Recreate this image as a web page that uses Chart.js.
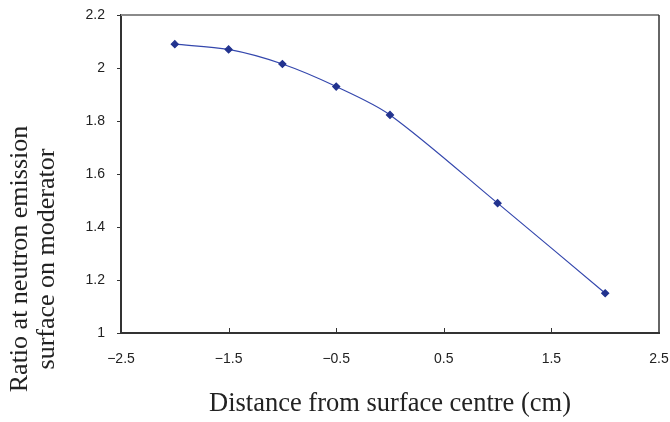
<!DOCTYPE html>
<html>
<head>
<meta charset="utf-8">
<script src="https://cdn.jsdelivr.net/npm/chart.js@4/dist/chart.umd.min.js"></script>
<style>
  html, body { margin: 0; padding: 0; background: #fff; }
  #wrap { width: 670px; height: 422px; }
</style>
</head>
<body>
<div id="wrap"><canvas id="c" width="670" height="422"></canvas></div>
<script>
// distance from surface centre (cm) and the ratio
const distances = [-2, -1.5, -1, -0.5, 0, 1, 2];
const ratios = [2.09, 2.07, 2.015, 1.93, 1.823, 1.49, 1.15];

const xTicks = [-2.5, -1.5, -0.5, 0.5, 1.5, 2.5];
const yTicks = [1, 1.2, 1.4, 1.6, 1.8, 2, 2.2];

const yTitle = ['Ratio at neutron emission', 'surface on moderator'];
const xTitle = 'Distance from surface centre (cm)';

const serif = '"Liberation Serif", "Times New Roman", serif';
const sans = '"Liberation Sans", Arial, sans-serif';

const minus = v => String(v).replace('-', '\u2212');

// top/right frame, inward x ticks and the y title (sits lower than the axis centre)
const frame = {
	id: 'frame',
	afterDraw(chart) {
		const ctx = chart.ctx;
		const a = chart.chartArea;
		const xs = chart.scales.x;
		ctx.save();
		ctx.strokeStyle = '#8a8a8a';
		ctx.lineWidth = 2;
		ctx.beginPath();
		ctx.moveTo(a.left, a.top);
		ctx.lineTo(a.right, a.top);
		ctx.stroke();
		ctx.strokeStyle = '#333';
		ctx.lineWidth = 1.5;
		ctx.beginPath();
		ctx.moveTo(a.right, a.top);
		ctx.lineTo(a.right, a.bottom);
		ctx.stroke();
		ctx.lineWidth = 1;
		xs.ticks.forEach((t, i) => {
			const px = Math.round(xs.getPixelForTick(i)) + 0.5;
			if (px <= a.left + 2 || px >= a.right - 2) return;
			ctx.beginPath();
			ctx.moveTo(px, a.bottom);
			ctx.lineTo(px, a.bottom - 5);
			ctx.stroke();
		});
		ctx.fillStyle = '#222';
		ctx.font = '26px ' + serif;
		ctx.textAlign = 'center';
		ctx.textBaseline = 'alphabetic';
		ctx.translate(0, 259);
		ctx.rotate(-Math.PI / 2);
		ctx.fillText(yTitle[0], 0, 27);
		ctx.fillText(yTitle[1], 0, 54);
		ctx.restore();
	}
};

const noPad = s => {
	s.paddingLeft = 0;
	s.paddingRight = 0;
	s.paddingTop = 0;
	s.paddingBottom = 0;
};

new Chart(document.getElementById('c'), {
	type: 'line',
	data: {
		datasets: [{
			data: distances.map((d, i) => ({x: d, y: ratios[i]})),
			borderColor: '#3447ad',
			borderWidth: 1.2,
			backgroundColor: '#22338f',
			pointBackgroundColor: '#22338f',
			pointBorderColor: '#22338f',
			pointStyle: 'rectRot',
			pointRadius: 3.5,
			tension: 0.3,
			fill: false
		}]
	},
	options: {
		responsive: false,
		animation: false,
		layout: { padding: { left: 0, right: 11, top: 15, bottom: 0 } },
		plugins: { legend: { display: false }, tooltip: { enabled: false } },
		scales: {
			x: {
				type: 'linear',
				min: -2.5,
				max: 2.5,
				afterFit: s => { s.height = 89; noPad(s); },
				afterBuildTicks: s => { s.ticks = xTicks.map(v => ({value: v})); },
				grid: { display: false, drawTicks: false },
				border: { display: true, color: '#333', width: 2 },
				ticks: {
					padding: 18,
					color: '#222',
					font: { family: sans, size: 14 },
					callback: v => minus(v),
					maxRotation: 0
				},
				title: {
					display: true,
					text: xTitle,
					color: '#222',
					font: { family: serif, size: 26.5 },
					padding: { top: 0, bottom: 2 }
				}
			},
			y: {
				min: 1,
				max: 2.2,
				afterFit: s => { s.width = 121; noPad(s); },
				afterBuildTicks: s => { s.ticks = yTicks.map(v => ({value: v})); },
				grid: { drawOnChartArea: false, drawTicks: true, tickLength: 4, color: '#333' },
				border: { display: true, color: '#333', width: 2 },
				ticks: {
					padding: 12,
					color: '#222',
					font: { family: sans, size: 14 },
					callback: v => String(Math.round(v * 10) / 10)
				}
			}
		}
	},
	plugins: [frame]
});
</script>
</body>
</html>
